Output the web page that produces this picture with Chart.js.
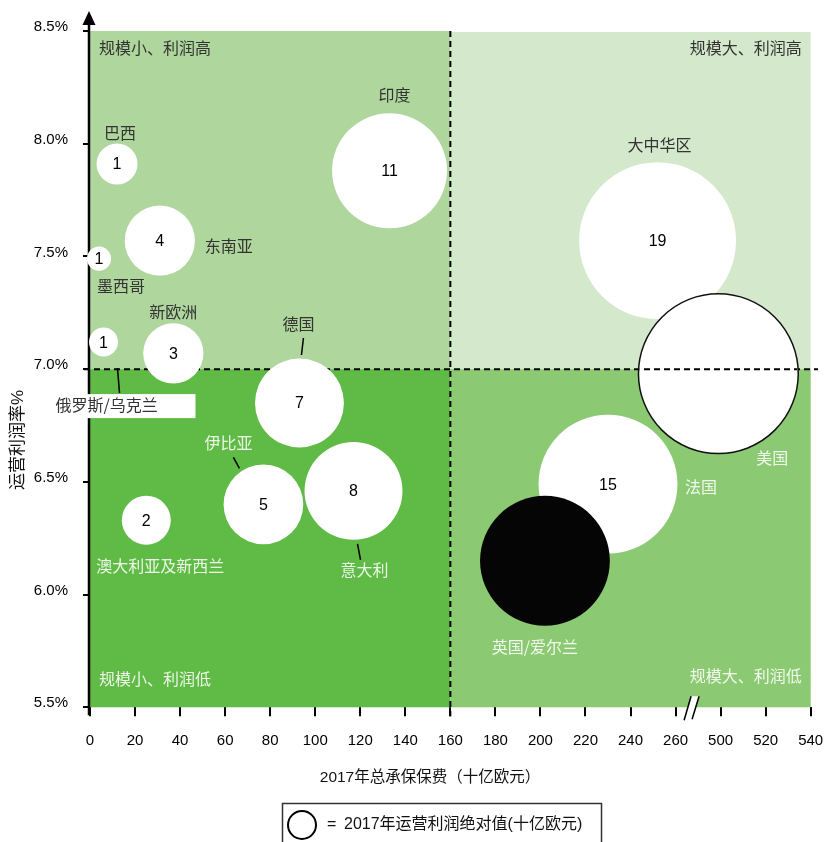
<!DOCTYPE html>
<html>
<head>
<meta charset="utf-8">
<script src="https://cdn.jsdelivr.net/npm/chart.js@4.4.1/dist/chart.umd.min.js"></script>
<style>
html,body{margin:0;padding:0;background:#fff}
canvas{display:block}
</style>
</head>
<body>
<canvas id="bubbleChart" width="824" height="842"></canvas>
<script>
// data
const regions = ['巴西','东南亚','墨西哥','俄罗斯/乌克兰','新欧洲','澳大利亚及新西兰','伊比亚','德国','意大利','印度','大中华区','法国','英国/爱尔兰','美国'];
const premium = [12, 31, 4, 6, 37, 25, 77, 93, 117, 133, 252, 230, 202, 499];
const margin = [7.91, 7.57, 7.49, 7.12, 7.07, 6.33, 6.40, 6.85, 6.46, 7.88, 7.57, 6.49, 6.15, 6.98];
const profitLabel = ['1','4','1','1','3','2','5','7','8','11','19','15','',''];
const bubbleSize = [1.3, 3.8, 0.45, 0.65, 2.8, 1.85, 4.9, 6.1, 7.4, 10.2, 19.0, 14.9, 13.0, 19.7];
const xTicks = [0,20,40,60,80,100,120,140,160,180,200,220,240,260,500,520,540];
const yTicks = [5.5,6.0,6.5,7.0,7.5,8.0,8.5];
const quadrantNames = ['规模小、利润高','规模大、利润高','规模小、利润低','规模大、利润低'];
const xTitle = '2017年总承保保费（十亿欧元）';
const yTitle = '运营利润率%';
const legendText = '2017年运营利润绝对值(十亿欧元)';

// broken x axis: 260 .. 480 is cut out
const BREAK_AT = 260, BREAK_GAP = 220;
const toAxis = v => v > BREAK_AT ? v - BREAK_GAP : v;
const X_SPLIT = 160, Y_SPLIT = 7.0;
const R_SCALE = 18;

const FONT = "'Liberation Sans', 'Noto Sans CJK SC', sans-serif";
const CJK = "'Noto Sans CJK SC', 'Liberation Sans', sans-serif";
const DARK = '#333';
const LIGHT = 'rgba(255,255,255,0.88)';

// label placement relative to bubble centre (px)
const labelLayout = {
  '巴西': {dx:3, dy:-31, c:DARK},
  '东南亚': {dx:69, dy:5, c:DARK},
  '墨西哥': {dx:22, dy:27, c:DARK},
  '俄罗斯/乌克兰': {dx:-48, dy:63, c:DARK, align:'left', box:[-50,52,142,24], line:[14,26,16,51]},
  '新欧洲': {dx:0, dy:-41, c:DARK},
  '澳大利亚及新西兰': {dx:14, dy:46, c:LIGHT},
  '伊比亚': {dx:-35, dy:-61, c:LIGHT, line:[-30,-47,-24,-36]},
  '德国': {dx:-1, dy:-79, c:DARK, line:[4,-65,2,-48]},
  '意大利': {dx:11, dy:79, c:LIGHT, line:[4,53,7,69]},
  '印度': {dx:5, dy:-76, c:DARK},
  '大中华区': {dx:2, dy:-96, c:DARK},
  '法国': {dx:93, dy:3, c:LIGHT},
  '英国/爱尔兰': {dx:-10, dy:86, c:LIGHT},
  '美国': {dx:54, dy:84, c:LIGHT}
};

const mainIdx = regions.map((r, i) => i).filter(i => regions[i] !== '美国');
const usIdx = regions.indexOf('美国');
const point = i => ({x: toAxis(premium[i]), y: margin[i], r: R_SCALE * Math.sqrt(bubbleSize[i])});

function dashed(c, x1, y1, x2, y2){
  c.save();
  c.setLineDash([6,4]);
  c.lineWidth = 2;
  c.strokeStyle = '#000';
  c.beginPath(); c.moveTo(x1,y1); c.lineTo(x2,y2); c.stroke();
  c.restore();
}

const quadrantPlugin = {
  id:'quadrants',
  beforeDatasetsDraw(chart){
    const c = chart.ctx, a = chart.chartArea;
    const xs = chart.scales.x.getPixelForValue(X_SPLIT);
    const ys = chart.scales.y.getPixelForValue(Y_SPLIT);
    c.save();
    c.fillStyle = '#afd69d'; c.fillRect(a.left, a.top, xs - a.left, ys - a.top);
    c.fillStyle = '#d4e8cb'; c.fillRect(xs, a.top + 1, a.right - xs, ys - a.top - 1);
    c.fillStyle = '#60ba46'; c.fillRect(a.left, ys, xs - a.left, a.bottom - ys);
    c.fillStyle = '#8bca72'; c.fillRect(xs, ys, a.right - xs, a.bottom - ys);

    c.font = '16px ' + CJK;
    c.textBaseline = 'middle';
    c.fillStyle = DARK; c.textAlign = 'left'; c.fillText(quadrantNames[0], a.left + 9, a.top + 17);
    c.textAlign = 'right'; c.fillText(quadrantNames[1], a.right - 9, a.top + 17);
    c.fillStyle = LIGHT; c.textAlign = 'left'; c.fillText(quadrantNames[2], a.left + 9, a.bottom - 28);
    c.textAlign = 'right'; c.fillText(quadrantNames[3], a.right - 9, a.bottom - 31);

    // y axis with arrow
    c.strokeStyle = '#000'; c.lineWidth = 2.5;
    c.beginPath(); c.moveTo(a.left - 1, a.bottom + 8); c.lineTo(a.left - 1, 22); c.stroke();
    c.fillStyle = '#000';
    c.beginPath(); c.moveTo(a.left - 1, 11); c.lineTo(a.left - 7.5, 25); c.lineTo(a.left + 5.5, 25); c.closePath(); c.fill();
    c.restore();

    dashed(c, a.left - 6, ys, 818, ys);
  },
  afterDatasetsDraw(chart){
    const c = chart.ctx, a = chart.chartArea;
    const xs = chart.scales.x.getPixelForValue(X_SPLIT);
    const ys = chart.scales.y.getPixelForValue(Y_SPLIT);

    // dashed line stays visible through the outlined bubble
    const us = chart.getDatasetMeta(0).data[0];
    c.save();
    c.beginPath(); c.arc(us.x, us.y, us.options.radius - 1, 0, Math.PI * 2); c.clip();
    dashed(c, a.left - 6, ys, 818, ys);
    c.restore();

    dashed(c, xs, a.top, xs, a.bottom + 9);

    // bubble values
    const main = chart.getDatasetMeta(1).data;
    c.save();
    c.font = '16px ' + FONT;
    c.fillStyle = '#000'; c.textAlign = 'center'; c.textBaseline = 'middle';
    mainIdx.forEach((ri, k) => {
      if (profitLabel[ri]) c.fillText(profitLabel[ri], main[k].x, main[k].y + 1);
    });
    c.restore();

    // region labels
    const centreOf = ri => ri === usIdx ? us : main[mainIdx.indexOf(ri)];
    c.save();
    c.font = '16px ' + CJK;
    c.textBaseline = 'middle';
    regions.forEach((name, ri) => {
      const L = labelLayout[name], p = centreOf(ri);
      if (L.box){
        c.fillStyle = '#fff';
        c.fillRect(p.x + L.box[0], p.y + L.box[1], L.box[2], L.box[3]);
      }
      if (L.line){
        c.strokeStyle = '#000'; c.lineWidth = 1.5;
        c.beginPath(); c.moveTo(p.x + L.line[0], p.y + L.line[1]); c.lineTo(p.x + L.line[2], p.y + L.line[3]); c.stroke();
      }
      c.fillStyle = L.c;
      c.textAlign = L.align || 'center';
      c.fillText(name, p.x + L.dx, p.y + L.dy);
    });
    c.restore();

    // axis break marks
    const bx = (chart.scales.x.getPixelForValue(toAxis(BREAK_AT)) + chart.scales.x.getPixelForValue(toAxis(500))) / 2 - 9;
    const by = a.bottom;
    c.save();
    c.fillStyle = '#fff';
    c.beginPath();
    c.moveTo(bx - 5, by + 13); c.lineTo(bx + 2, by - 11); c.lineTo(bx + 10, by - 11); c.lineTo(bx + 3, by + 13);
    c.closePath(); c.fill();
    c.strokeStyle = '#000'; c.lineWidth = 1.5;
    c.beginPath();
    c.moveTo(bx - 5, by + 13); c.lineTo(bx + 2, by - 11);
    c.moveTo(bx + 3, by + 12); c.lineTo(bx + 10, by - 11);
    c.stroke();
    c.restore();

    // axis titles
    c.save();
    c.fillStyle = '#111';
    c.font = '15.5px ' + FONT;
    c.textAlign = 'center'; c.textBaseline = 'middle';
    c.fillText(xTitle, 430, 778);
    c.translate(18, 440); c.rotate(-Math.PI / 2);
    c.font = '17px ' + FONT;
    c.fillText(yTitle, 0, 0);
    c.restore();

    // size legend
    c.save();
    c.strokeStyle = '#333'; c.lineWidth = 1.5;
    c.strokeRect(282.5, 803.5, 319, 60);
    c.strokeStyle = '#000'; c.lineWidth = 2;
    c.beginPath(); c.arc(302, 825, 14, 0, Math.PI * 2); c.stroke();
    c.fillStyle = '#111';
    c.font = '16px ' + FONT;
    c.textBaseline = 'middle'; c.textAlign = 'left';
    c.fillText('=', 327, 825);
    c.fillText(legendText, 344, 825);
    c.restore();
  }
};

const noEdgePadding = s => { s.paddingLeft = 0; s.paddingRight = 0; s.paddingTop = 0; s.paddingBottom = 0; };

const ctx = document.getElementById('bubbleChart');

new Chart(ctx, {
  type:'bubble',
  data:{
    datasets:[
      {
        data:[point(usIdx)],
        backgroundColor:'#fff',
        borderColor:'#111',
        borderWidth:1.5,
        clip:false,
        order:0
      },
      {
        data:mainIdx.map(point),
        backgroundColor:mainIdx.map(i => regions[i] === '英国/爱尔兰' ? '#050505' : '#fff'),
        borderWidth:0,
        clip:false,
        order:1
      }
    ]
  },
  options:{
    responsive:false,
    animation:false,
    events:[],
    layout:{autoPadding:false, padding:{left:0, top:31, right:13.3, bottom:0}},
    plugins:{legend:{display:false}, tooltip:{enabled:false}},
    scales:{
      x:{
        type:'linear', min:0, max:toAxis(540),
        afterBuildTicks:s => { s.ticks = xTicks.map(v => ({value:toAxis(v)})); },
        afterFit:s => { s.height = 134.7; noEdgePadding(s); },
        grid:{drawOnChartArea:false, tickLength:9, color:'#000', lineWidth:2},
        border:{display:false},
        ticks:{autoSkip:false, maxRotation:0, padding:16, color:'#000', font:{family:FONT, size:15},
          callback:(v, i) => xTicks[i]}
      },
      y:{
        type:'linear', min:5.5, max:8.5,
        afterBuildTicks:s => { s.ticks = yTicks.map(v => ({value:v})); },
        afterFit:s => { s.width = 90; noEdgePadding(s); },
        grid:{drawOnChartArea:false, tickLength:7, color:'#000', lineWidth:2},
        border:{display:false},
        ticks:{padding:15, labelOffset:-4, color:'#000', font:{family:FONT, size:15},
          callback:v => v.toFixed(1) + '%'}
      }
    }
  },
  plugins:[quadrantPlugin]
});
</script>
</body>
</html>
